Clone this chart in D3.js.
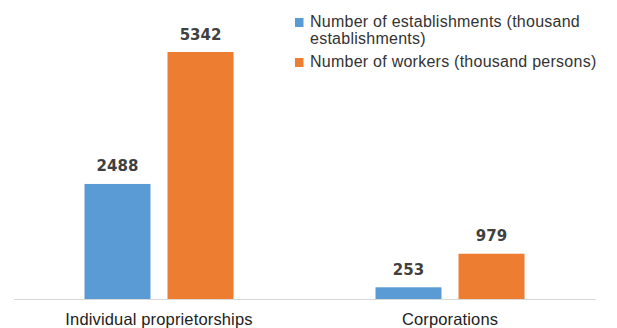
<!DOCTYPE html>
<html>
<head>
<meta charset="utf-8">
<script src="https://cdn.jsdelivr.net/npm/d3@7"></script>
<style>
  html, body { margin: 0; padding: 0; background: #fff; }
  svg { display: block; }
</style>
</head>
<body>
<svg id="chart" width="617" height="328"></svg>
<script>
// Categories and series values (thousands)
const categories = ["Individual proprietorships", "Corporations"];
const seriesNames = [
  "Number of establishments (thousand establishments)",
  "Number of workers (thousand persons)"
];
const establishments = [2488, 253];
const workers = [5342, 979];
const legendLines = [
  ["Number of establishments (thousand", "establishments)"],
  ["Number of workers (thousand persons)"]
];
const colors = ["#5B9BD5", "#ED7D31"];

const svg = d3.select("#chart");
const plot = { left: 13.5, right: 595.5, top: 52, bottom: 299 };
const textFont = "Liberation Sans, Arial, sans-serif";

const seriesValues = [establishments, workers];

const x0 = d3.scaleBand()
  .domain(categories)
  .range([plot.left, plot.right])
  .padding(0);

const x1 = d3.scaleBand()
  .domain(d3.range(seriesNames.length))
  .range([0, x0.bandwidth()])
  .paddingInner(0.205)
  .paddingOuter(0.855);

const y = d3.scaleLinear()
  .domain([0, 5342])
  .range([plot.bottom, plot.top]);

// Bars
const groups = svg.append("g").selectAll("g")
  .data(categories)
  .join("g")
  .attr("transform", d => `translate(${x0(d)},0)`);

const cells = (c, i) => seriesValues.map((vals, s) => ({ s, v: vals[i] }));

groups.selectAll("rect")
  .data(cells)
  .join("rect")
  .attr("x", d => x1(d.s))
  .attr("width", x1.bandwidth())
  .attr("y", d => y(d.v))
  .attr("height", d => y(0) - y(d.v))
  .attr("fill", d => colors[d.s]);

// Value labels
groups.selectAll("text.val")
  .data(cells)
  .join("text")
  .attr("class", "val")
  .attr("x", d => x1(d.s) + x1.bandwidth() / 2)
  .attr("y", d => y(d.v) - 12.5)
  .attr("text-anchor", "middle")
  .attr("font-family", "DejaVu Sans, sans-serif")
  .attr("font-weight", "bold")
  .attr("font-size", 15)
  .attr("fill", "#404040")
  .text(d => d.v);

// Category axis
const xAxis = svg.append("g")
  .attr("transform", `translate(0,${plot.bottom})`)
  .call(d3.axisBottom(x0).tickSize(0).tickPadding(14));
xAxis.select(".domain").attr("stroke", "#d9d9d9").attr("stroke-width", 1.2);
xAxis.selectAll("text")
  .attr("font-family", textFont)
  .attr("font-size", 16.5)
  .attr("letter-spacing", 0.15)
  .attr("fill", "#222");

// Legend
const legend = svg.append("g").attr("transform", "translate(295,0)");
const legendY = [18, 58];
legendLines.forEach((lines, s) => {
  const g = legend.append("g").attr("transform", `translate(0,${legendY[s]})`);
  g.append("rect").attr("width", 8.5).attr("height", 9).attr("fill", colors[s]);
  const t = g.append("text")
    .attr("font-family", textFont)
    .attr("font-size", 16)
    .attr("letter-spacing", 0.25)
    .attr("fill", "#333");
  lines.forEach((ln, k) => {
    t.append("tspan")
      .attr("x", 15)
      .attr("y", 9 + k * 16.5)
      .text(ln);
  });
});
</script>
</body>
</html>
